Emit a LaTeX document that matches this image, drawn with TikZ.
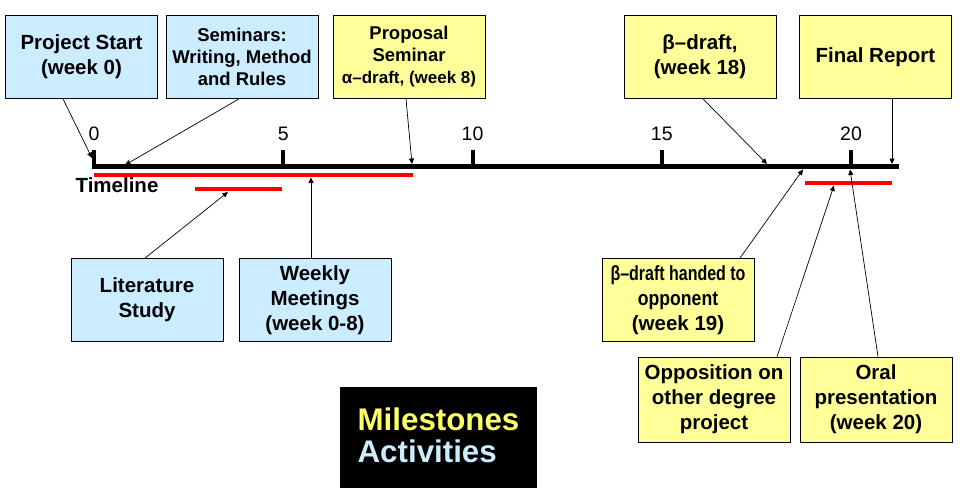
\documentclass[tikz,border=0pt]{standalone}
\usepackage{graphicx}
\usepackage{fontspec}
\setmainfont{Liberation Sans}
\usetikzlibrary{arrows.meta}

\definecolor{actblue}{HTML}{CCECFF}
\definecolor{mileyellow}{HTML}{FFFF99}
\definecolor{legyellow}{HTML}{FFFF66}

\tikzset{
  box/.style={draw,line width=0.8pt,minimum width=152pt,minimum height=83pt,
    inner sep=0pt,align=center,font=\fontsize{20.5}{25}\selectfont\bfseries},
  activity/.style={box,fill=actblue},
  milestone/.style={box,fill=mileyellow},
  smalltext/.style={font=\fontsize{18.5}{22}\selectfont\bfseries},
  pointer/.style={-{Triangle[length=5.5pt,width=5pt]},line width=0.7pt},
  period/.style={red,line width=3.6pt},
  weeklabel/.style={font=\fontsize{19.5}{20}\selectfont},
}

\begin{document}
\begin{tikzpicture}[x=1pt,y=-1pt]
  \useasboundingbox (0,0) rectangle (960,491);
  % boxes above the timeline
  \node[activity] (start) at (81.5,57) {Project Start\\(week 0)};
  \node[activity,smalltext] (seminars) at (242,57) {Seminars:\\Writing, Method\\and Rules};
  \node[milestone,smalltext] (proposal) at (409,57) {Proposal\\Seminar\\{\fontsize{17}{22}\selectfont α–draft, (week 8)}};
  \node[milestone] (beta) at (700,57) {β–draft,\\(week 18)};
  \node[milestone] (final) at (875.5,57) {Final Report};
  % boxes below the timeline
  \node[activity] (lit) at (147,300) {Literature\\Study};
  \node[activity] (weekly) at (315,300) {Weekly\\Meetings\\(week 0-8)};
  \node[milestone] (handed) at (678,300) {\scalebox{0.78}[1]{β–draft handed to}\\\scalebox{0.86}[1]{opponent}\\(week 19)};
  \node[milestone,minimum height=85pt] (opposition) at (714,399.5) {Opposition on\\other degree\\project};
  \node[milestone,minimum height=85pt] (oral) at (876,399.5) {Oral\\presentation\\(week 20)};
  % legend
  \node[fill=black,minimum width=197pt,minimum height=101pt,inner sep=0pt] (legend) at (438.5,437.5) {};
  \node[align=left,inner sep=0pt,font=\fontsize{31.3}{32}\selectfont\bfseries] (legendtext) at (438.5,435.5)
    {\textcolor{legyellow}{Milestones}\\\textcolor{actblue}{Activities}};

  % timeline
  \draw[line width=4.5pt] (92,166.5) -- (899,166.5);
  \foreach \w in {0,5,...,20} {
    \draw[line width=4pt] (94+37.85*\w,150) -- (94+37.85*\w,166.5);
    \node[weeklabel] at (94+37.85*\w,133.5) {\w};
  }
  \node[font=\fontsize{20.5}{21}\selectfont\bfseries] (timeline) at (117,185.5) {Timeline};
  \draw[period] (94,175) -- (413,175);
  \draw[period] (195,189) -- (282,189);
  \draw[period] (805,183) -- (892,183);

  % arrow ends on the timeline
  \coordinate (w0) at (92,158);
  \coordinate (wsem) at (125,165);
  \coordinate (wprop) at (412,164);
  \coordinate (wbeta) at (767,164);
  \coordinate (wfinal) at (892,164);
  \coordinate (wlit) at (228,192);
  \coordinate (wweekly) at (311,177.5);
  \coordinate (whanded) at (803,169.5);
  \coordinate (wopp) at (834,185.5);
  \coordinate (woral) at (850,169.5);

  \path[pointer]
    ([xshift=-18.5pt]start.south) edge (w0)
    ([xshift=-3pt]seminars.south) edge (wsem)
    ([xshift=-3pt]proposal.south) edge (wprop)
    ([xshift=3pt]beta.south) edge (wbeta)
    ([xshift=16.5pt]final.south) edge (wfinal)
    ([xshift=-2pt]lit.north) edge (wlit)
    ([xshift=-4pt]weekly.north) edge (wweekly)
    ([xshift=62pt]handed.north) edge (whanded)
    ([xshift=63pt]opposition.north) edge (wopp)
    ([xshift=2pt]oral.north) edge (woral);
\end{tikzpicture}
\end{document}
